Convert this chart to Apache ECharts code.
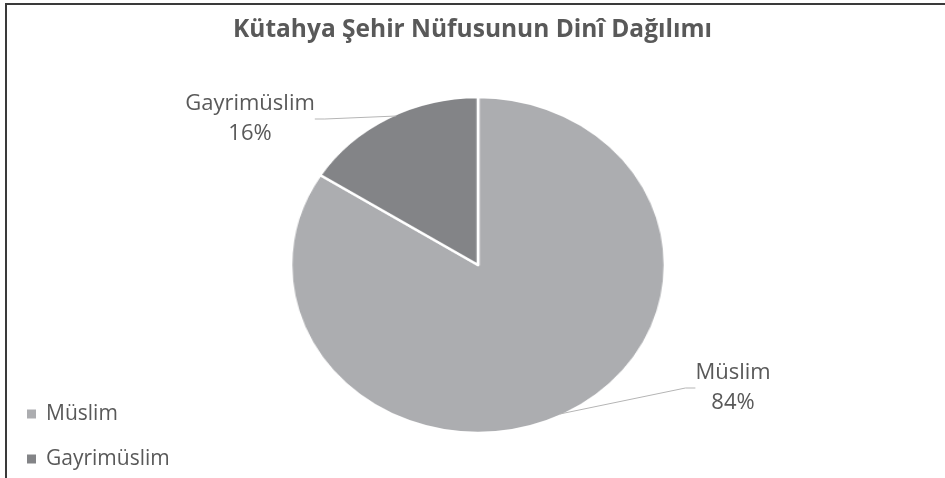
<!DOCTYPE html>
<html>
<head>
<meta charset="utf-8">
<script src="https://cdn.jsdelivr.net/npm/echarts@6/dist/echarts.min.js"></script>
<style>
html, body { margin: 0; padding: 0; background: #fff; }
#wrap { position: relative; width: 945px; height: 478px; overflow: hidden; }
#frame { position: absolute; left: 5px; top: 3px; width: 945px; height: 480px;
  border-top: 2px solid #3a3a3a; border-left: 2px solid #3a3a3a; }
#pie-body, #pie-text { position: absolute; left: 0; top: 0; width: 945px; height: 478px; }
#pie-body { transform: scaleX(1.113); transform-origin: 478px 265px; }
</style>
</head>
<body>
<div id="wrap">
  <div id="frame"></div>
  <div id="pie-body"></div>
  <div id="pie-text"></div>
</div>
<script>
// dağılım verisi
var categories = ['Müslim', 'Gayrimüslim'];
var values = [84, 16];
var colors = ['#acadb0', '#838487'];
var titleText = 'Kütahya Şehir Nüfusunun Dinî Dağılımı';

var pieData = categories.map(function (c, i) {
    return { name: c, value: values[i], itemStyle: { color: colors[i] } };
});

// pasta gövdesi (yatayda biraz basık görünüm için ayrı katman)
var bodyChart = echarts.init(document.getElementById('pie-body'));
bodyChart.setOption({
    animation: false,
    series: [{
        type: 'pie',
        center: [478, 265],
        radius: 168,
        startAngle: 90,
        label: { show: false },
        labelLine: { show: false },
        itemStyle: { borderColor: '#fff', borderWidth: 2.5 },
        data: pieData
    }]
});

// başlık, gösterge ve etiketler
var textChart = echarts.init(document.getElementById('pie-text'));
var labelPos = [
    { x: 733, y: 388 },
    { x: 250, y: 119 }
];
textChart.setOption({
    animation: false,
    title: {
        text: titleText,
        left: 'center',
        top: 13,
        textStyle: { fontFamily: 'Open Sans', fontSize: 24.5, fontWeight: 'bold', color: '#595959' }
    },
    legend: {
        orient: 'vertical',
        left: 22,
        top: 398,
        itemGap: 23,
        itemWidth: 9,
        itemHeight: 9,
        icon: 'rect',
        textStyle: { fontFamily: 'Open Sans', fontSize: 21, lineHeight: 22, color: '#595959', padding: [0, 0, 0, 5] },
        data: categories.map(function (c, i) {
            return { name: c, itemStyle: { color: colors[i] } };
        })
    },
    series: [{
        type: 'pie',
        center: [478, 265],
        radius: 170,
        startAngle: 90,
        silent: true,
        itemStyle: { color: 'rgba(0,0,0,0)' },
        emphasis: { disabled: true },
        label: {
            show: true,
            formatter: '{b}\n{d}%',
            fontFamily: 'Open Sans',
            fontSize: 22,
            lineHeight: 30,
            color: '#595959'
        },
        labelLine: {
            show: true,
            length: 20,
            length2: 10,
            lineStyle: { color: '#b5b5b5', width: 1 }
        },
        labelLayout: function (params) {
            var p = labelPos[params.dataIndex];
            return { x: p.x, y: p.y, align: 'center', verticalAlign: 'middle' };
        },
        data: categories.map(function (c, i) {
            return { name: c, value: values[i] };
        })
    }]
});
</script>
</body>
</html>
